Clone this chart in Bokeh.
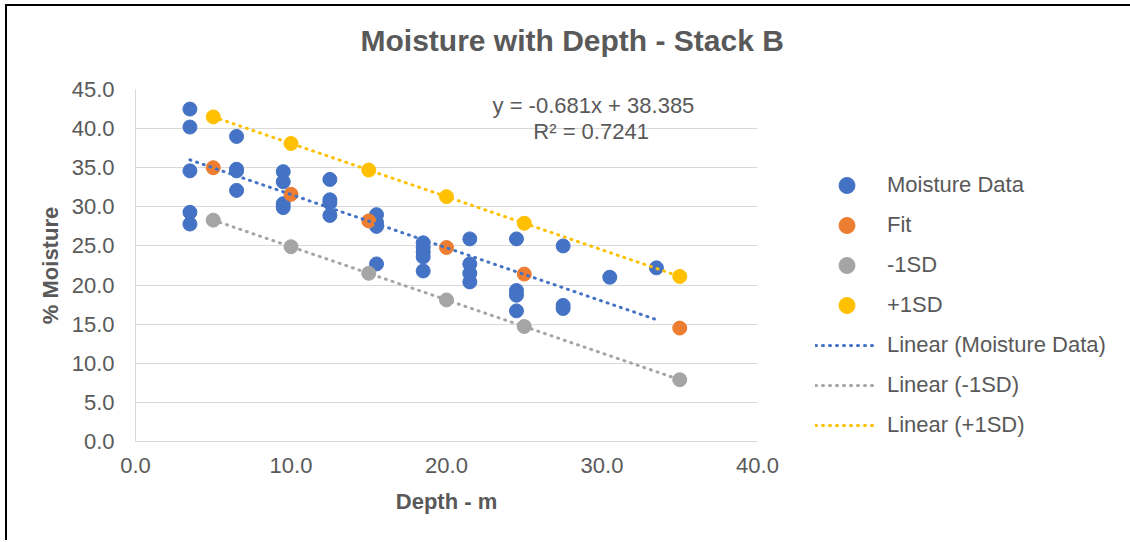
from bokeh.plotting import figure
from bokeh.models import Legend, LegendItem, Label, FixedTicker, NumeralTickFormatter, Range1d, Title
from bokeh.embed import file_html
from bokeh.resources import INLINE
import numpy as np

# ---- data ----
depth = [3.5, 3.5, 3.5, 3.5, 3.5,
         6.5, 6.5, 6.5, 6.5,
         9.5, 9.5, 9.5, 9.5,
         12.5, 12.5, 12.5, 12.5,
         15.5, 15.5, 15.5, 15.5,
         18.5, 18.5, 18.5, 18.5, 18.5,
         21.5, 21.5, 21.5, 21.5,
         24.5, 24.5, 24.5, 24.5,
         27.5, 27.5, 27.5,
         30.5, 33.5]
moisture = [42.5, 40.2, 34.6, 29.3, 27.8,
            39.0, 34.8, 34.6, 32.1,
            34.5, 33.2, 30.4, 29.9,
            33.5, 30.9, 30.5, 28.9,
            29.0, 28.0, 27.5, 22.7,
            25.4, 24.8, 24.2, 23.6, 21.8,
            25.9, 22.7, 21.5, 20.4,
            25.9, 19.3, 18.7, 16.7,
            25.0, 17.4, 17.0,
            21.0, 22.2]
fit_depth = [5, 10, 15, 20, 25, 35]
fit_vals = [35.0, 31.6, 28.2, 24.8, 21.4, 14.5]
minus_sd = [28.3, 24.9, 21.5, 18.1, 14.7, 7.9]
plus_sd = [41.5, 38.1, 34.7, 31.3, 27.9, 21.1]
slope = -0.681
intercept = 38.385
r2 = 0.7241
x_ticks = [0, 10, 20, 30, 40]
y_ticks = [0, 5, 10, 15, 20, 25, 30, 35, 40, 45]

BLUE = "#4472C4"
ORANGE = "#ED7D31"
GRAY = "#A5A5A5"
YELLOW = "#FFC000"
TXT = "#595959"
FONT = "Liberation Sans"

p = figure(frame_width=622, frame_height=352, x_range=Range1d(0, 40), y_range=Range1d(0, 45),
           output_backend="svg", toolbar_location=None,
           min_border_left=128, min_border_right=0, min_border_top=83, min_border_bottom=99,
           styles={"border-left": "2px solid #000", "border-top": "2px solid #000",
                   "margin-left": "5px", "margin-top": "4px"})
p.outline_line_color = None
p.xgrid.visible = False
p.ygrid.grid_line_color = "#d9d9d9"
p.ygrid.grid_line_width = 1

for ax, ticks in ((p.xaxis[0], x_ticks), (p.yaxis[0], y_ticks)):
    ax.ticker = FixedTicker(ticks=ticks)
    ax.formatter = NumeralTickFormatter(format="0.0")
    ax.major_tick_line_color = None
    ax.minor_tick_line_color = None
    ax.major_tick_out = 0
    ax.major_tick_in = 0
    ax.minor_tick_out = 0
    ax.axis_line_color = "#d9d9d9"
    ax.major_label_text_font = FONT
    ax.major_label_text_font_size = "22px"
    ax.major_label_text_color = TXT
    ax.axis_label_text_font = FONT
    ax.axis_label_text_font_size = "22px"
    ax.axis_label_text_font_style = "bold"
    ax.axis_label_text_color = TXT

p.xaxis.axis_label = "Depth - m"
p.yaxis.axis_label = "% Moisture"
p.xaxis.major_label_standoff = 16
p.xaxis.axis_label_standoff = 13
p.yaxis.major_label_standoff = 21
p.yaxis.axis_label_standoff = 6

r_data = p.scatter(depth, moisture, size=14, color=BLUE)
r_fit = p.scatter(fit_depth, fit_vals, size=14, color=ORANGE)
r_minus = p.scatter(fit_depth, minus_sd, size=14, color=GRAY)
r_plus = p.scatter(fit_depth, plus_sd, size=14, color=YELLOW)

# trendlines
xd = np.array([min(depth), max(depth)])
l_data = p.line(xd, slope * xd + intercept, line_color=BLUE, line_width=3,
                line_dash="1 6", line_cap="round")
xs = np.array([min(fit_depth), max(fit_depth)])
cm = np.polyfit(fit_depth, minus_sd, 1)
l_minus = p.line(xs, np.polyval(cm, xs), line_color=GRAY, line_width=3,
                 line_dash="1 6", line_cap="round")
cp = np.polyfit(fit_depth, plus_sd, 1)
l_plus = p.line(xs, np.polyval(cp, xs), line_color=YELLOW, line_width=3,
                line_dash="1 6", line_cap="round")

# equation
p.add_layout(Label(x=29.45, y=42.9, text=f"y = {slope}x + {intercept}", text_align="center",
                   text_baseline="middle", text_font=FONT, text_font_size="22px", text_color=TXT))
p.add_layout(Label(x=29.3, y=39.6, text=f"R² = {r2}", text_align="center",
                   text_baseline="middle", text_font=FONT, text_font_size="22px", text_color=TXT))

# title (a blank spacer panel keeps it higher above the frame)
spacer = Title(text=" ", text_font_size="2px", standoff=13)
p.add_layout(spacer, "above")
title = Title(text="Moisture with Depth - Stack B", align="left", offset=225, standoff=31,
              text_font=FONT, text_font_size="30px", text_font_style="bold", text_color=TXT)
p.add_layout(title, "above")

legend = Legend(items=[
    LegendItem(label="Moisture Data", renderers=[r_data]),
    LegendItem(label="Fit", renderers=[r_fit]),
    LegendItem(label="-1SD", renderers=[r_minus]),
    LegendItem(label="+1SD", renderers=[r_plus]),
    LegendItem(label="Linear (Moisture Data)", renderers=[l_data]),
    LegendItem(label="Linear (-1SD)", renderers=[l_minus]),
    LegendItem(label="Linear (+1SD)", renderers=[l_plus]),
], location=(58, -4), glyph_width=63, glyph_height=40, label_height=40, spacing=0,
    label_standoff=9, padding=0, margin=0, border_line_color=None, background_fill_alpha=0,
    label_text_font=FONT, label_text_font_size="22px", label_text_color=TXT)
p.add_layout(legend, "right")

open("out.html", "w").write(file_html(p, INLINE))
